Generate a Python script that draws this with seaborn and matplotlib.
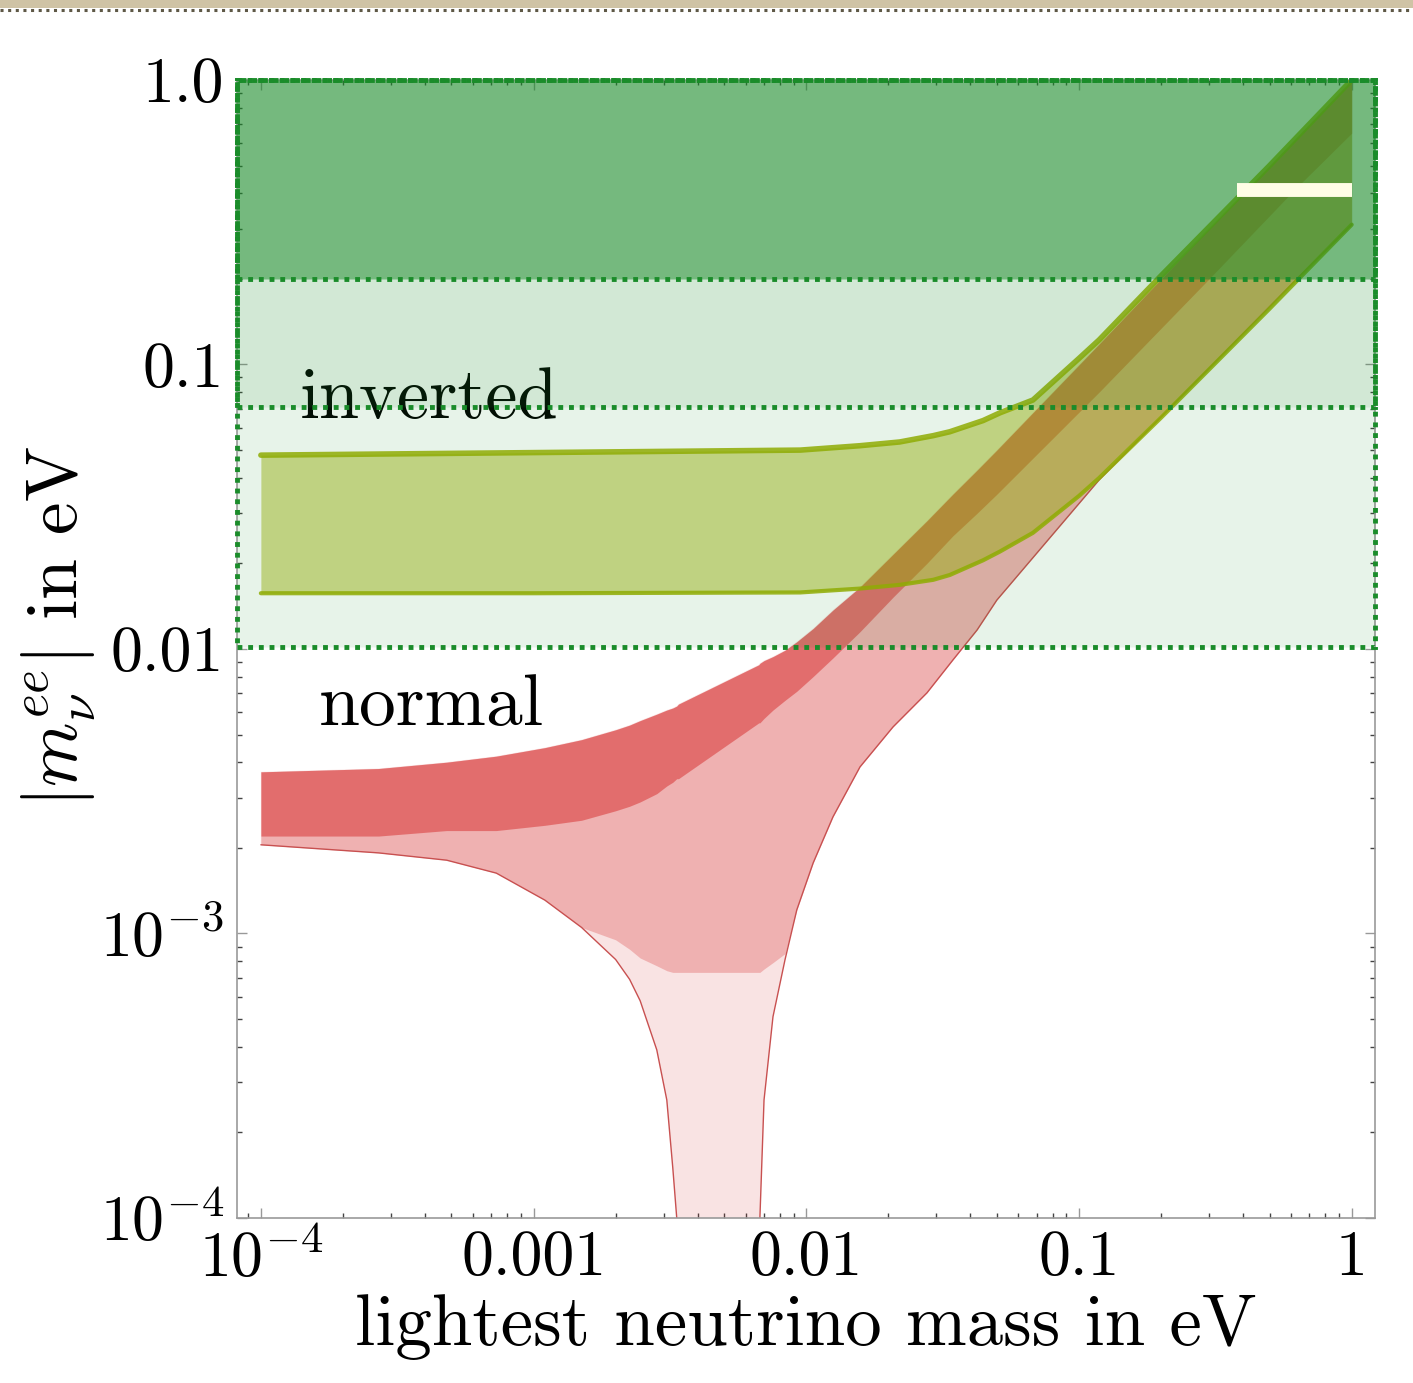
import numpy as np
import matplotlib
matplotlib.use("Agg")
import matplotlib.pyplot as plt
import seaborn as sns
from matplotlib.lines import Line2D
from matplotlib.patches import Rectangle
from matplotlib.ticker import FixedLocator, FixedFormatter, LogLocator, NullFormatter

# normal ordering band (lightest mass -> |m_ee| in eV)
normal_m = [1e-4, 2.7e-4, 4.8e-4, 7.3e-4, 1.1e-3, 1.5e-3, 2e-3, 2.25e-3, 2.46e-3,
            2.83e-3, 3.08e-3, 3.24e-3, 3.35e-3, 3.4e-3, 6.7e-3, 6.76e-3, 7.0e-3,
            7.55e-3, 8.36e-3, 9.23e-3, 0.0106, 0.01253, 0.01574, 0.0208, 0.0277,
            0.0345, 0.0423, 0.050, 0.1186, 0.3, 0.63, 1.0]
normal_upper = [0.0037, 0.0038, 0.0040, 0.0042, 0.0045, 0.0048, 0.0052, 0.0054, 0.0056,
                0.0059, 0.0061, 0.0062, 0.0063, 0.0064, 0.0088, 0.0089, 0.0091,
                0.0094, 0.0099, 0.0106, 0.0118, 0.0137, 0.0165, 0.0215, 0.0282,
                0.035, 0.0425, 0.050, 0.118, 0.30, 0.63, 1.0]
normal_lower = [0.00205, 0.00192, 0.00181, 0.00163, 0.00131, 0.00105, 0.00081, 0.00069, 0.00058,
                0.00039, 0.00026, 0.00015, 0.0001, 1e-5, 1e-5, 0.0001, 0.00026,
                0.00051, 0.00081, 0.00121, 0.00177, 0.00257, 0.00385, 0.00532, 0.00701,
                0.00915, 0.01166, 0.01486, 0.0393, 0.097, 0.20, 0.31]
normal_mid = [0.00205, 0.00192, 0.00181, 0.00163, 0.00131, 0.00105, 0.00095, 0.00088, 0.00082,
              0.00077, 0.00074, 0.00073, 0.00073, 0.00073, 0.00073, 0.00073, 0.00075,
              0.00079, 0.00085, 0.00121, 0.00177, 0.00257, 0.00385, 0.00532, 0.00701,
              0.00915, 0.01166, 0.01486, 0.0393, 0.097, 0.20, 0.31]
normal_core = [0.0022, 0.0022, 0.0023, 0.0023, 0.0024, 0.0025, 0.0027, 0.0028, 0.0029,
               0.0031, 0.0033, 0.0034, 0.0035, 0.0035, 0.0055, 0.0055, 0.0057,
               0.0061, 0.0066, 0.0071, 0.0080, 0.0093, 0.0115, 0.0152, 0.020,
               0.025, 0.030, 0.035, 0.08, 0.2, 0.42, 0.65]

# inverted ordering band
inverted_m = [1e-4, 1e-3, 0.0095, 0.0157, 0.022, 0.0292, 0.0336, 0.0445, 0.0513, 0.0678,
              0.1, 0.1186, 0.2, 0.5, 1.0]
inverted_upper = [0.048, 0.049, 0.050, 0.0518, 0.0534, 0.0562, 0.058, 0.0635, 0.0676, 0.075,
                  0.105, 0.122, 0.205, 0.50, 1.0]
inverted_lower = [0.0157, 0.0157, 0.0158, 0.0163, 0.0168, 0.0175, 0.0182, 0.0205, 0.022, 0.0256,
                  0.0345, 0.0399, 0.065, 0.157, 0.31]

# experimental bands (lower edges, all reach up to 1 eV)
band_lower = [0.0102, 0.071, 0.2]
band_top = 1.0
band_alpha = [0.1, 0.1, 0.5]

# short cream bar at the top right
bar_m = [0.38, 1.0]
bar_y = [0.41, 0.41]

x_ticks = [1e-4, 1e-3, 1e-2, 0.1, 1.0]
x_ticklabels = [r"$10^{-4}$", "0.001", "0.01", "0.1", "1"]
y_ticks = [1e-4, 1e-3, 1e-2, 0.1, 1.0]
y_ticklabels = [r"$10^{-4}$", r"$10^{-3}$", "0.01", "0.1", "1.0"]

sns.set_theme(style="ticks")
plt.rcParams["font.family"] = ["cmr10"]
plt.rcParams["mathtext.fontset"] = "cm"
plt.rcParams["axes.formatter.use_mathtext"] = True
plt.rcParams["axes.unicode_minus"] = False
plt.rcParams["text.color"] = "black"
plt.rcParams["axes.labelcolor"] = "black"

red = "#D41C1C"
olive = "#9DB000"
green = (0.10, 0.55, 0.16)

fig = plt.figure(figsize=(14.13, 13.83), dpi=100)
ax = fig.add_axes([0.1675, 0.1193, 0.8056, 0.8229])
ax.set_xscale("log")
ax.set_yscale("log")

# normal ordering: three density layers
ax.fill_between(normal_m, normal_lower, normal_upper, color=red, alpha=0.12, lw=0, zorder=2)
ax.fill_between(normal_m, normal_mid, normal_upper, color=red, alpha=0.25, lw=0, zorder=2)
ax.fill_between(normal_m, normal_core, normal_upper, color=red, alpha=0.45, lw=0, zorder=2)
sns.lineplot(x=normal_m, y=normal_lower, ax=ax, color="#C85050", lw=1,
             estimator=None, sort=False, legend=False, zorder=2)

# inverted ordering
ax.fill_between(inverted_m, inverted_lower, inverted_upper, color=olive, alpha=0.45, lw=0, zorder=3)
sns.lineplot(x=inverted_m, y=inverted_upper, ax=ax, color=olive, lw=4, alpha=0.85,
             estimator=None, sort=False, legend=False, zorder=3)
sns.lineplot(x=inverted_m, y=inverted_lower, ax=ax, color=olive, lw=3, alpha=0.85,
             estimator=None, sort=False, legend=False, zorder=3)

ax.text(0.0556, 0.703, "inverted", transform=ax.transAxes, fontsize=52,
        va="baseline", ha="left", color="black", zorder=4)
ax.text(0.0723, 0.433, "normal", transform=ax.transAxes, fontsize=53,
        va="baseline", ha="left", color="black", zorder=4)

for lo, a in zip(band_lower, band_alpha):
    ax.axhspan(lo, band_top, facecolor=(*green, a), edgecolor="#1A8C2A",
               linestyle=(0, (1, 1.2)), linewidth=3.5, zorder=5, clip_on=False)

sns.lineplot(x=bar_m, y=bar_y, ax=ax, color="#FFFDE6", lw=10, solid_capstyle="butt",
             estimator=None, sort=False, legend=False, zorder=7)

ax.set_xlim(10 ** -4.0887, 10 ** 0.0855)
ax.set_ylim(1e-4, 1.0)

ax.xaxis.set_major_locator(FixedLocator(x_ticks))
ax.xaxis.set_major_formatter(FixedFormatter(x_ticklabels))
ax.yaxis.set_major_locator(FixedLocator(y_ticks))
ax.yaxis.set_major_formatter(FixedFormatter(y_ticklabels))
ax.xaxis.set_minor_locator(LogLocator(base=10, subs=np.arange(2, 10), numticks=50))
ax.yaxis.set_minor_locator(LogLocator(base=10, subs=np.arange(2, 10), numticks=50))
ax.xaxis.set_minor_formatter(NullFormatter())
ax.yaxis.set_minor_formatter(NullFormatter())

ax.tick_params(which="both", direction="in", top=True, right=True)
ax.tick_params(which="major", length=7, width=1, color="#999999", labelsize=46,
               labelcolor="black", pad=9)
ax.tick_params(which="minor", length=3.5, width=1, color="#444444")
for s in ax.spines.values():
    s.set_color("#9a9a9a")
    s.set_linewidth(1.2)

ax.set_xlabel("lightest neutrino mass in eV", fontsize=52.5)
ax.set_ylabel(r"$|m_\nu^{ee}|$ in eV", fontsize=53)
ax.xaxis.set_label_coords(0.5, -0.067)
ax.yaxis.set_label_coords(-0.122, 0.52)

# page strip along the top edge
fig.add_artist(Rectangle((0, 1 - 8 / 1383), 1, 8 / 1383, transform=fig.transFigure,
                         color="#CFC3A5", lw=0))
fig.add_artist(Line2D([0, 1], [1 - 10 / 1383] * 2, transform=fig.transFigure,
                      color="#5E5846", lw=2.2, linestyle=(0, (1, 1.5))))

fig.savefig("out.png", dpi=100)
